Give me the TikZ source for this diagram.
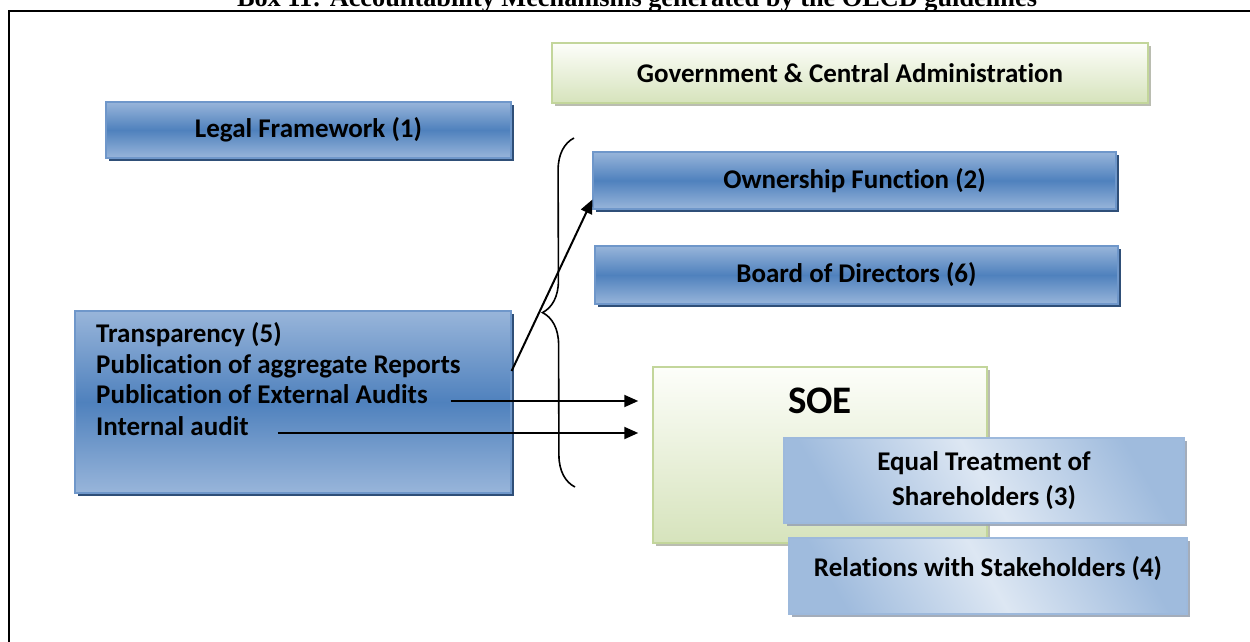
\documentclass[tikz,border=0pt]{standalone}
\usepackage{fontspec}
\setmainfont{Carlito}[Ligatures=NoCommon]
\newfontfamily\titlefont{Liberation Serif}
\usepackage{tikz}
\usetikzlibrary{shadows,arrows.meta,decorations.pathreplacing}
\definecolor{bluemid}{HTML}{4F81BD}
\definecolor{bluelight}{HTML}{98B5DA}
\definecolor{blueline}{HTML}{6F97CA}
\definecolor{blueshadow}{HTML}{2F4F78}
\definecolor{greentop}{HTML}{FDFEFA}
\definecolor{greenbot}{HTML}{D6E3BC}
\definecolor{greenline}{HTML}{C3D69B}
\definecolor{greenshadow}{HTML}{A9AD9E}
\definecolor{palemid}{HTML}{DDE7F3}
\definecolor{paledark}{HTML}{9FBBDD}
\definecolor{paleline}{HTML}{9DB9DC}
\definecolor{paleshadow}{HTML}{9AA4B3}
\tikzset{blue box/.style={
    rectangle, draw=blueline, line width=1.2pt, inner sep=0pt,
    top color=bluelight, bottom color=bluelight, middle color=bluemid,
    drop shadow={shadow xshift=3pt, shadow yshift=-3pt, fill=blueshadow, opacity=1}
  },
  green box/.style={
    rectangle, draw=greenline, line width=1.5pt, inner sep=0pt,
    top color=greentop, bottom color=greenbot,
    drop shadow={shadow xshift=3pt, shadow yshift=-3pt, fill=greenshadow, opacity=0.8}
  },
  light box/.style={
    rectangle, draw=paleline, line width=1.2pt, inner sep=0pt,
    top color=paledark, bottom color=paledark, middle color=palemid,
    shading angle=-60,
    drop shadow={shadow xshift=3pt, shadow yshift=-3pt, fill=paleshadow, opacity=0.9}
  },
  line text/.style={anchor=mid west, inner sep=0pt},
  arrow line/.style={-{Triangle[length=14pt,width=12pt]}, line width=2pt},
  brace line/.style={decorate, decoration={brace, amplitude=32pt}, line width=1.6pt},
  frame line/.style={line width=2.4pt}
}
\begin{document}
\begin{tikzpicture}[x=1pt, y=-1pt, font=\fontsize{27}{35}\selectfont\bfseries]
  \useasboundingbox (0,0) rectangle (1250,642);
  \node[anchor=base, inner sep=0pt, font=\titlefont\fontsize{26.3}{30}\selectfont\bfseries] (Title) at (637,7)
    {Box 11: Accountability Mechanisms generated by the OECD guidelines};
  \draw[frame line] (9,660) |- (1260,11);
  % top row
  \node[green box, minimum width=596, minimum height=60] (Gov) at (850,73) {Government \& Central Administration};
  \node[blue box, minimum width=405, minimum height=56] (Legal) at (308.5,130) {Legal Framework (1)};
  \node[blue box, minimum width=523, minimum height=57] (Own) at (854.5,180.5) {Ownership Function (2)};
  \node[blue box, minimum width=523, minimum height=58] (Board) at (856.5,275) {Board of Directors (6)};
  % transparency
  \node[blue box, minimum width=436, minimum height=182] (Trans) at (293,402) {};
  \node[line text] (Transp) at (96,340) {Transparency (5)};
  \node[line text] (PubAgg) at (96,371) {Publication of aggregate Reports};
  \node[line text] (PubExt) at (96,401) {Publication of External Audits};
  \node[line text] (IntAudit) at (96,433) {Internal audit};
  % SOE
  \node[green box, minimum width=334, minimum height=176] (SOE) at (820,455) {};
  \node[inner sep=0pt, font=\fontsize{39}{40}\selectfont\bfseries] (SOELabel) at ([yshift=-35pt]SOE.north) {SOE};
  \node[light box, minimum width=400, minimum height=85, align=center, yshift=-3pt] (Equal) at (984,477.5)
    {Equal Treatment of\\Shareholders (3)};
  \node[light box, minimum width=398, minimum height=76, text height=20pt, text depth=20pt] (Rel) at (988,576)
    {Relations with Stakeholders (4)};
  % brace and arrows
  \coordinate (BraceBot) at (575,487);
  \coordinate (BraceTop) at (574,138);
  \draw[brace line] (BraceBot) -- (BraceTop);
  \draw[arrow line] (Trans.east |- PubAgg.mid) -- ([yshift=-19pt]Own.west);
  \draw[arrow line, shorten <=23pt, shorten >=14pt] (PubExt.mid east) -- (SOE.west |- PubExt.mid east);
  \draw[arrow line, shorten <=29pt, shorten >=14pt] (IntAudit.mid east) -- (SOE.west |- IntAudit.mid east);
\end{tikzpicture}
\end{document}
